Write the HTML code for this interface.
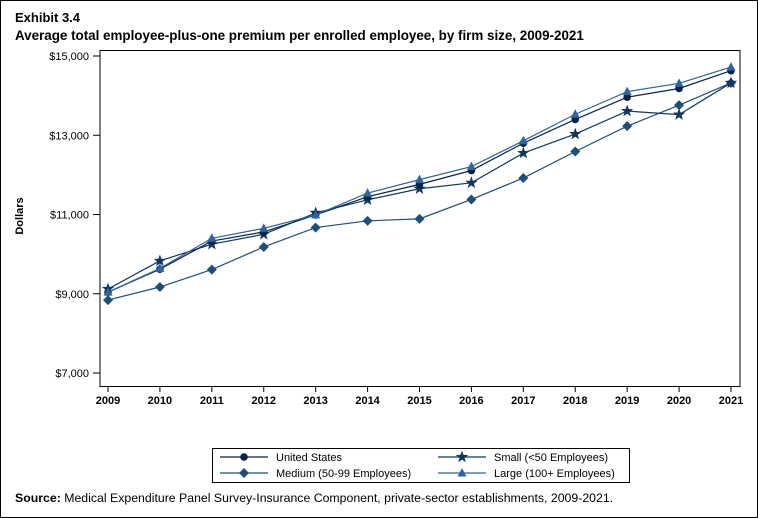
<!DOCTYPE html>
<html><head><meta charset="utf-8"><style>
body{margin:0;background:#fff}
svg{display:block;font-family:"Liberation Sans",Arial,sans-serif}
</style></head><body>
<svg id="c" width="758" height="518">
<rect x="0.5" y="0.5" width="757" height="517" fill="#fff" stroke="#000"/>
<text x="15" y="22" font-size="13" font-weight="bold">Exhibit 3.4</text>
<text x="15" y="40" font-size="13.4" font-weight="bold">Average total employee-plus-one premium per enrolled employee, by firm size, 2009-2021</text>
<text transform="translate(23,216) rotate(-90)" text-anchor="middle" font-size="11" font-weight="bold">Dollars</text>
<rect x="100" y="50.5" width="640" height="336" fill="none" stroke="#000"/>
<g id="axes"></g><g id="series"></g>
<g>
<rect x="212.5" y="448.5" width="417" height="34" fill="none" stroke="#000"/>
<g id="legend"></g>
</g>
<text x="15" y="502" font-size="12.3"><tspan font-weight="bold">Source:</tspan> Medical Expenditure Panel Survey-Insurance Component, private-sector establishments, 2009-2021.</text>
</svg>
<script>
const years=[2009,2010,2011,2012,2013,2014,2015,2016,2017,2018,2019,2020,2021];
const yTicks=[7000,9000,11000,13000,15000];
const yTickLabels=["$7,000","$9,000","$11,000","$13,000","$15,000"];
const usVals=[9040,9620,10330,10560,10990,11450,11760,12110,12800,13400,13960,14180,14630];
const smallVals=[9120,9830,10250,10500,11040,11370,11650,11800,12550,13030,13610,13520,14320];
const mediumVals=[8840,9170,9610,10180,10670,10840,10890,11380,11920,12590,13230,13760,14320];
const largeVals=[9040,9640,10400,10650,10990,11540,11880,12210,12860,13530,14100,14310,14720];
const NS="http://www.w3.org/2000/svg";
function xS(i){return 108+i*(731-108)/(years.length-1);}
function yS(v){return 56+(15000-v)*(373-56)/8000;}
function mk(t,a,p){const e=document.createElementNS(NS,t);for(const k in a)e.setAttribute(k,a[k]);p.appendChild(e);return e;}
const ax=document.getElementById('axes');
yTicks.forEach((v,i)=>{
 const l=mk('line',{x1:93,x2:100,y1:yS(v),y2:yS(v),stroke:'#000'},ax);
 
 
 const t=mk('text',{x:89,y:yS(v)+4,'text-anchor':'end','font-size':11},ax);t.textContent=yTickLabels[i];
 
 
});
years.forEach((y,i)=>{
 const l=mk('line',{x1:xS(i),x2:xS(i),y1:386,y2:392,stroke:'#000'},ax);
 
 
 const t=mk('text',{x:xS(i),y:404,'text-anchor':'middle','font-size':11,'font-weight':'bold'},ax);t.textContent=y;
 
 
});
function marker(type,x,y,col,p){
 let e;
 if(type==='circle')e=mk('circle',{cx:x,cy:y,r:3.8,fill:col},p);
 else if(type==='diamond')e=mk('polygon',{points:`${x},${y-5} ${x+5},${y} ${x},${y+5} ${x-5},${y}`,fill:col},p);
 else if(type==='tri')e=mk('polygon',{points:`${x},${y-5} ${x+4.5},${y+3.5} ${x-4.5},${y+3.5}`,fill:col},p);
 else{let pts=[];for(let k=0;k<10;k++){const r=k%2?2.6:6.5,a=-Math.PI/2+k*Math.PI/5;pts.push((x+r*Math.cos(a)).toFixed(1)+','+(y+r*Math.sin(a)).toFixed(1));}
  e=mk('polygon',{points:pts.join(' '),fill:col},p);}
 return e;
}
const series=[
 {name:'medium',vals:mediumVals,col:'#1f4e79',m:'diamond'},
 {name:'small',vals:smallVals,col:'#0f3760',m:'star'},
 {name:'us',vals:usVals,col:'#0b2340',m:'circle'},
 {name:'large',vals:largeVals,col:'#2f64a0',m:'tri'}];
const sg=document.getElementById('series');
series.forEach(s=>{
 const g=mk('g',{},sg);
 
 
 const pl=mk('polyline',{points:s.vals.map((v,i)=>xS(i)+','+yS(v)).join(' '),fill:'none',stroke:s.col,'stroke-width':1.2},g);
 
 
 s.vals.forEach((v,i)=>{const e=marker(s.m,xS(i),yS(v),s.col,g);
  
  });
});
const lg=document.getElementById('legend');
const items=[['United States','#0b2340','circle',220,457],['Small (<50 Employees)','#0f3760','star',438,457],['Medium (50-99 Employees)','#1f4e79','diamond',220,473],['Large (100+ Employees)','#2f64a0','tri',438,473]];
items.forEach(it=>{
 const g=mk('g',{},lg);
 
 
 mk('line',{x1:it[3],x2:it[3]+48,y1:it[4],y2:it[4],stroke:it[1],'stroke-width':1.2},g);
 marker(it[2],it[3]+24,it[4],it[1],g);
 const t=mk('text',{x:it[3]+56,y:it[4]+4,'font-size':11},g);t.textContent=it[0];
});
</script>
</body></html>
